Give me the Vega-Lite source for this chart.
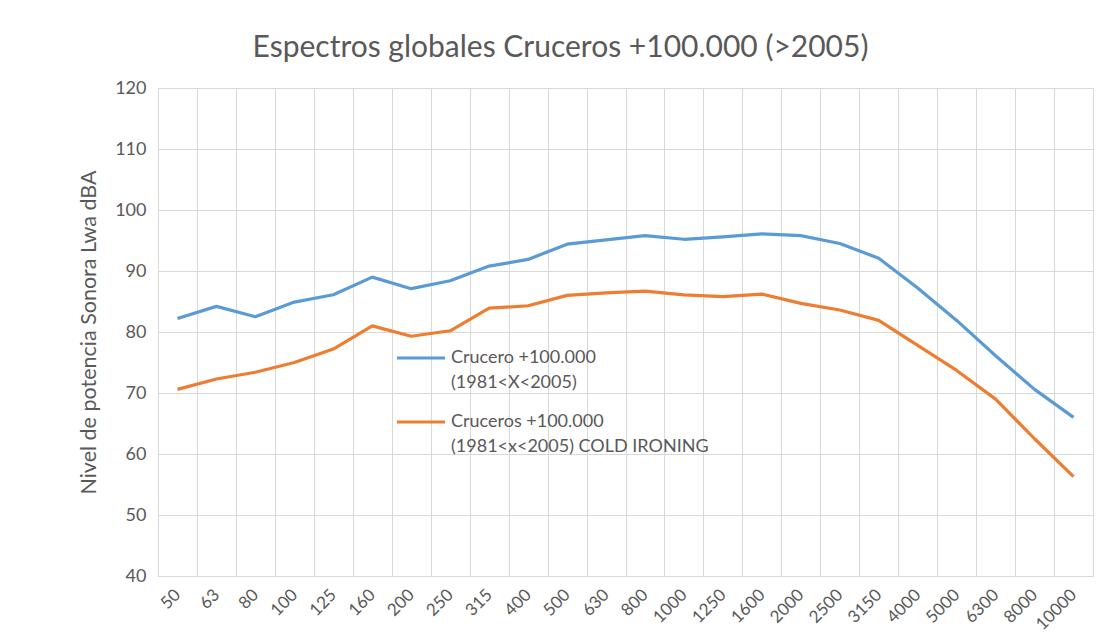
{
  "$schema": "https://vega.github.io/schema/vega-lite/v6.json",
  "autosize": "none",
  "width": 935,
  "height": 488,
  "padding": {"left": 158, "top": 88, "right": 8, "bottom": 68},
  "background": "#ffffff",
  "title": {
    "text": "Espectros globales Cruceros +100.000 (>2005)",
    "font": "Lato",
    "fontSize": 30,
    "fontWeight": "normal",
    "color": "#595959",
    "anchor": "middle",
    "dx": -65,
    "offset": 16
  },
  "data": {
    "values": [
      {"f": "50", "s": "A", "v": 82.2},
      {"f": "63", "s": "A", "v": 84.2},
      {"f": "80", "s": "A", "v": 82.5},
      {"f": "100", "s": "A", "v": 84.9},
      {"f": "125", "s": "A", "v": 86.1},
      {"f": "160", "s": "A", "v": 89.0},
      {"f": "200", "s": "A", "v": 87.1},
      {"f": "250", "s": "A", "v": 88.4},
      {"f": "315", "s": "A", "v": 90.8},
      {"f": "400", "s": "A", "v": 91.9},
      {"f": "500", "s": "A", "v": 94.4},
      {"f": "630", "s": "A", "v": 95.1},
      {"f": "800", "s": "A", "v": 95.8},
      {"f": "1000", "s": "A", "v": 95.2},
      {"f": "1250", "s": "A", "v": 95.6},
      {"f": "1600", "s": "A", "v": 96.1},
      {"f": "2000", "s": "A", "v": 95.8},
      {"f": "2500", "s": "A", "v": 94.5},
      {"f": "3150", "s": "A", "v": 92.1},
      {"f": "4000", "s": "A", "v": 87.2},
      {"f": "5000", "s": "A", "v": 81.9},
      {"f": "6300", "s": "A", "v": 76.1},
      {"f": "8000", "s": "A", "v": 70.6},
      {"f": "10000", "s": "A", "v": 66.0},
      {"f": "50", "s": "B", "v": 70.6},
      {"f": "63", "s": "B", "v": 72.3},
      {"f": "80", "s": "B", "v": 73.4},
      {"f": "100", "s": "B", "v": 75.0},
      {"f": "125", "s": "B", "v": 77.2},
      {"f": "160", "s": "B", "v": 81.0},
      {"f": "200", "s": "B", "v": 79.3},
      {"f": "250", "s": "B", "v": 80.2},
      {"f": "315", "s": "B", "v": 83.9},
      {"f": "400", "s": "B", "v": 84.3},
      {"f": "500", "s": "B", "v": 86.0},
      {"f": "630", "s": "B", "v": 86.4},
      {"f": "800", "s": "B", "v": 86.7},
      {"f": "1000", "s": "B", "v": 86.1},
      {"f": "1250", "s": "B", "v": 85.8},
      {"f": "1600", "s": "B", "v": 86.2},
      {"f": "2000", "s": "B", "v": 84.7},
      {"f": "2500", "s": "B", "v": 83.6},
      {"f": "3150", "s": "B", "v": 81.9},
      {"f": "4000", "s": "B", "v": 77.8},
      {"f": "5000", "s": "B", "v": 73.7},
      {"f": "6300", "s": "B", "v": 69.0},
      {"f": "8000", "s": "B", "v": 62.5},
      {"f": "10000", "s": "B", "v": 56.3}
    ]
  },
  "mark": {"type": "line", "strokeWidth": 3.2, "strokeJoin": "round"},
  "encoding": {
    "x": {
      "field": "f",
      "type": "ordinal",
      "sort": null,
      "bandPosition": 0.5,
      "scale": {"type": "band", "paddingInner": 0, "paddingOuter": 0},
      "axis": {
        "title": null,
        "tickBand": "extent",
        "grid": true,
        "gridColor": "#D9D9D9",
        "gridWidth": 1,
        "domain": false,
        "ticks": false,
        "labelAngle": -45,
        "labelAlign": "right",
        "labelBaseline": "middle",
        "labelPadding": 16,
        "labelFont": "Lato",
        "labelFontSize": 17,
        "labelColor": "#595959"
      }
    },
    "y": {
      "field": "v",
      "type": "quantitative",
      "scale": {"domain": [40, 120], "nice": false, "zero": false},
      "axis": {
        "title": "Nivel de potencia Sonora Lwa dBA",
        "titleFont": "Lato",
        "titleFontSize": 21.5,
        "titleFontWeight": "normal",
        "titleColor": "#595959",
        "titlePadding": 14,
        "values": [40, 50, 60, 70, 80, 90, 100, 110, 120],
        "grid": true,
        "gridColor": "#D9D9D9",
        "domain": false,
        "ticks": false,
        "labelPadding": 12,
        "labelFont": "Lato",
        "labelFontSize": 18,
        "labelColor": "#595959"
      }
    },
    "color": {
      "field": "s",
      "type": "nominal",
      "scale": {"domain": ["A", "B"], "range": ["#5B9BD5", "#ED7D31"]},
      "legend": {
        "title": null,
        "orient": "none",
        "legendX": 237,
        "legendY": 244,
        "symbolType": "stroke",
        "symbolSize": 2304,
        "symbolStrokeWidth": 3.2,
        "labelFont": "Lato",
        "labelFontSize": 18,
        "labelColor": "#595959",
        "labelOffset": 4,
        "labelLimit": 500,
        "rowPadding": 4,
        "labelExpr": "datum.label == 'A' ? ['Crucero +100.000', '(1981<X<2005)'] : ['Cruceros +100.000', '(1981<x<2005) COLD IRONING']",
        "encode": {"labels": {"update": {"lineHeight": {"value": 25}}}}
      }
    }
  },
  "config": {
    "view": {"stroke": "#D9D9D9"}
  }
}
